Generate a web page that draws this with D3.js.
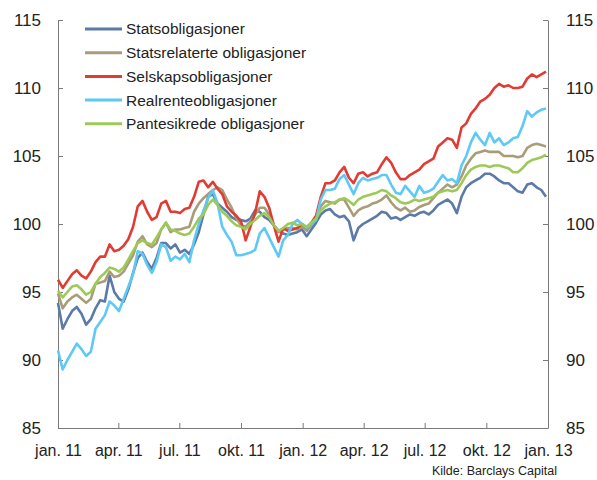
<!DOCTYPE html>
<html lang="no">
<head>
<meta charset="UTF-8">
<title>Obligasjonsindekser</title>
<script src="https://cdn.jsdelivr.net/npm/d3@7"></script>
<style>
    body { margin: 0; background: #fff; }
    #chart text { font-family: "Liberation Sans", Arial, sans-serif; fill: #222; }
</style>
</head>
<body>
<div id="chart"></div>
<script>
    // weekly observations, first one 1 Jan 2011
    const startDate = new Date(2011, 0, 1)

    const seriesNames = ["Statsobligasjoner", "Statsrelaterte obligasjoner", "Selskapsobligasjoner",
        "Realrenteobligasjoner", "Pantesikrede obligasjoner"]
    const seriesColors = ["#5b7aa8", "#a89d78", "#e03c33", "#5fc9f6", "#9dca57"]

    const stats = [94.2, 92.3, 93.0, 93.6, 93.9, 93.4, 92.6, 93.0, 93.8, 94.4,
        94.3, 96.2, 95.0, 94.5, 94.3, 95.2, 96.4, 97.5, 97.9, 97.2,
        96.7, 97.5, 98.6, 98.6, 98.2, 98.5, 97.9, 98.1, 97.8, 98.5,
        99.4, 100.7, 102.0, 102.2, 101.5, 101.2, 100.9, 100.5, 100.3, 100.3,
        100.2, 100.4, 101.0, 100.9, 100.5, 100.3, 99.9, 99.5, 99.3, 99.2,
        99.3, 99.4, 99.6, 99.1, 99.6, 100.1, 100.7, 101.0, 101.1, 100.7,
        100.5, 100.6, 100.2, 98.8, 99.7, 100.0, 100.2, 100.4, 100.6, 100.9,
        100.8, 100.4, 100.5, 100.3, 100.5, 100.7, 100.6, 100.8, 100.9, 100.7,
        101.0, 101.4, 101.6, 101.8, 101.5, 100.8, 102.0, 102.7, 103.0, 103.2,
        103.4, 103.7, 103.7, 103.5, 103.2, 103.0, 103.0, 102.7, 102.4, 102.3,
        102.9, 103.0, 102.7, 102.5, 102.0]

    const statsrelaterte = [94.9, 93.8, 94.3, 94.6, 94.8, 94.5, 94.2, 94.5, 95.6, 95.7,
        95.8, 96.5, 96.1, 96.2, 96.5, 97.1, 97.7, 98.7, 99.1, 98.5,
        98.3, 98.6, 99.6, 100.1, 99.4, 99.6, 99.6, 99.7, 99.8, 100.9,
        101.5, 101.9, 102.2, 102.5, 102.7, 102.5, 101.8, 101.2, 100.4, 99.9,
        99.8, 100.2, 100.7, 101.2, 101.2, 100.7, 99.9, 99.4, 99.6, 99.7,
        99.7, 99.6, 99.8, 99.5, 99.9, 100.4, 101.3, 101.7, 101.6, 101.5,
        101.8, 101.8, 101.2, 100.6, 101.0, 101.2, 101.3, 101.5, 101.6, 101.8,
        102.1, 101.6, 101.2, 101.0, 101.2, 100.9, 101.0, 101.25, 101.4, 101.5,
        101.9, 102.3, 102.6, 102.9, 102.7, 102.9, 103.5, 104.3, 104.8, 105.2,
        105.3, 105.4, 105.3, 105.3, 105.3, 105.0, 105.0, 105.0, 104.9, 105.0,
        105.6, 105.8, 105.9, 105.8, 105.7]

    const selskap = [95.9, 95.3, 95.8, 96.3, 96.6, 96.2, 96.0, 96.5, 97.2, 97.6,
        97.6, 98.5, 98.0, 98.1, 98.4, 98.9, 99.8, 101.3, 101.7, 100.9,
        100.3, 100.5, 101.5, 101.7, 100.9, 100.9, 100.8, 101.1, 101.2, 102.0,
        103.1, 103.2, 102.7, 103.1, 102.6, 102.2, 101.3, 100.9, 100.6, 100.2,
        98.8, 99.8, 100.8, 102.4, 102.0, 101.2, 99.9, 98.7, 99.7, 99.5,
        99.6, 99.7, 100.0, 99.7, 100.1, 100.6, 102.0, 103.0, 103.0, 103.2,
        103.8, 104.2, 103.4, 103.0, 103.7, 103.8, 103.5, 103.7, 103.8, 104.4,
        104.9, 104.5, 103.8, 103.3, 103.3, 103.6, 103.8, 104.0, 104.4, 104.6,
        104.8, 105.7, 106.0, 106.3, 106.2, 105.6, 107.1, 107.4, 108.1, 108.5,
        109.0, 109.2, 109.5, 110.0, 110.3, 110.1, 110.2, 110.0, 110.0, 110.1,
        110.7, 111.0, 110.8, 111.0, 111.2]

    const realrente = [90.7, 89.3, 90.0, 90.6, 91.2, 90.8, 90.3, 90.6, 92.3, 92.8,
        93.3, 94.3, 94.0, 93.6, 94.5, 95.4, 96.3, 98.0, 97.8, 97.0,
        96.4, 97.2, 98.5, 98.3, 97.3, 97.6, 97.4, 97.8, 97.2, 98.8,
        100.0, 101.0, 101.9, 102.5, 101.5, 99.8, 99.2, 98.7, 97.7, 97.7,
        97.8, 97.9, 98.1, 99.3, 99.7, 99.0, 98.3, 97.6, 98.8, 99.2,
        100.0, 100.3, 100.0, 99.7, 100.0, 100.3, 101.8, 102.5, 102.5, 102.6,
        103.3, 103.6, 102.9, 102.2, 103.0, 103.4, 103.2, 103.3, 103.4, 103.6,
        103.6, 102.9, 102.3, 102.2, 102.8, 102.4, 102.0, 102.8, 102.3, 102.4,
        102.6, 103.1, 103.6, 103.2, 103.3, 103.0, 104.3, 105.0, 106.0, 106.7,
        106.2, 105.8, 106.7, 106.0, 106.3, 105.8, 106.0, 106.3, 106.4, 107.2,
        108.3, 107.9, 108.2, 108.4, 108.5]

    const pantesikrede = [95.1, 94.6, 95.0, 95.4, 95.5, 95.2, 94.8, 95.0, 95.6, 96.1,
        96.4, 96.8, 96.7, 96.5, 96.8, 97.4, 98.0, 98.6, 98.8, 98.6,
        98.5, 99.0, 99.6, 100.1, 99.6, 99.5, 99.3, 99.2, 99.3, 99.8,
        100.4, 100.7, 101.4, 101.8, 101.4, 100.9, 100.6, 100.2, 99.9, 99.8,
        99.6, 100.0, 100.3, 100.6, 100.8, 100.5, 99.9, 99.5, 99.7, 100.0,
        100.1, 99.9, 100.0, 99.8, 100.1, 100.4, 101.0, 101.3, 101.5, 101.6,
        101.8, 101.9, 101.7, 101.4, 101.8, 102.0, 102.1, 102.2, 102.3, 102.5,
        102.4, 102.1, 101.9, 101.6, 101.5, 101.6, 101.8, 101.7, 101.8, 101.9,
        102.0, 102.3, 102.4, 102.5, 102.4, 102.5, 103.0, 103.6, 104.0, 104.2,
        104.3, 104.3, 104.2, 104.3, 104.3, 104.2, 104.1, 103.8, 103.8, 104.1,
        104.5, 104.7, 104.8, 104.9, 105.1]

    const yTicks = [85, 90, 95, 100, 105, 110, 115]
    const xTickDates = ["2011-01-01", "2011-04-01", "2011-07-01", "2011-10-01", "2012-01-01",
        "2012-04-01", "2012-07-01", "2012-10-01", "2013-01-01"]
    const xTickLabels = ["jan. 11", "apr. 11", "jul. 11", "okt. 11", "jan. 12",
        "apr. 12", "jul. 12", "okt. 12", "jan. 13"]
    const source = "Kilde: Barclays Capital"

    const width = 597
    const height = 480
    const plotLeft = 58, plotRight = 548, plotTop = 20, plotBottom = 428

    const svg = d3.select("#chart")
        .append("svg")
        .attr("width", width)
        .attr("height", height)

    const parse = d3.timeParse("%Y-%m-%d")
    const tickDates = xTickDates.map(parse)

    const x = d3.scaleTime()
        .domain([tickDates[0], tickDates[tickDates.length - 1]])
        .range([plotLeft, plotRight])
    const y = d3.scaleLinear().domain([85, 115]).range([plotBottom, plotTop])

    const allSeries = [stats, statsrelaterte, selskap, realrente, pantesikrede]
    const dates = stats.map((v, i) => d3.timeDay.offset(startDate, 7 * i))

    // axes
    const styleAxis = (g, size) => {
        g.selectAll(".domain").attr("stroke", "#7a7a7a")
        g.selectAll(".tick line").attr("stroke", "#7a7a7a")
        g.selectAll(".tick text").attr("font-size", size).attr("fill", "#222")
    }

    svg.append("g")
        .attr("transform", `translate(${plotLeft},0)`)
        .call(d3.axisLeft(y).tickValues(yTicks).tickSizeInner(-5).tickSizeOuter(0).tickPadding(17))
        .call(styleAxis, 17)

    svg.append("g")
        .attr("transform", `translate(${plotRight},0)`)
        .call(d3.axisRight(y).tickValues(yTicks).tickSizeInner(-5).tickSizeOuter(0).tickPadding(18))
        .call(styleAxis, 17)

    svg.append("g")
        .attr("transform", `translate(0,${plotBottom})`)
        .call(d3.axisBottom(x).tickValues(tickDates).tickSizeInner(-5).tickSizeOuter(0).tickPadding(17)
            .tickFormat((d, i) => xTickLabels[i]))
        .call(styleAxis, 16)

    // lines
    const line = d3.line()
        .x((d, i) => x(dates[i]))
        .y(d => y(d))

    svg.append("g")
        .selectAll("path")
        .data(allSeries)
        .join("path")
        .attr("d", line)
        .attr("fill", "none")
        .attr("stroke", (d, i) => seriesColors[i])
        .attr("stroke-width", 2.6)
        .attr("stroke-linejoin", "round")

    // legend
    const legend = svg.append("g").attr("transform", "translate(85,29)")
    const rows = legend.selectAll("g")
        .data(seriesNames)
        .join("g")
        .attr("transform", (d, i) => `translate(0,${i * 23.7})`)
    rows.append("line")
        .attr("x1", 0).attr("x2", 37)
        .attr("stroke", (d, i) => seriesColors[i])
        .attr("stroke-width", 3)
    rows.append("text")
        .attr("x", 41)
        .attr("dy", "0.35em")
        .attr("font-size", 15.5)
        .text(d => d)

    svg.append("text")
        .attr("x", 557)
        .attr("y", 475)
        .attr("text-anchor", "end")
        .attr("font-size", 12.5)
        .text(source)
</script>
</body>
</html>
